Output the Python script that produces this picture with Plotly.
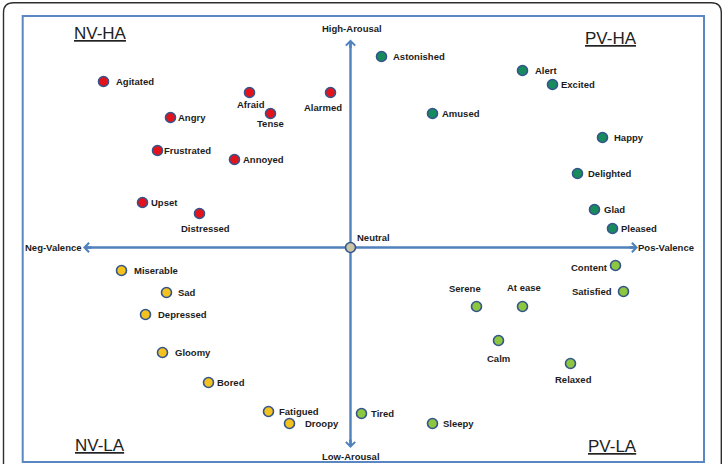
import plotly.graph_objects as go

# ---------------- data (valence, arousal) ----------------
nvha_names = ["Agitated", "Afraid", "Alarmed", "Angry", "Tense", "Frustrated", "Annoyed", "Upset", "Distressed"]
nvha_val = [-2.47, -1.01, -0.20, -1.80, -0.80, -1.93, -1.16, -2.08, -1.51]
nvha_aro = [1.66, 1.55, 1.55, 1.30, 1.34, 0.97, 0.88, 0.45, 0.34]

pvha_names = ["Astonished", "Alert", "Excited", "Amused", "Happy", "Delighted", "Glad", "Pleased"]
pvha_val = [0.31, 1.72, 2.02, 0.82, 2.52, 2.27, 2.44, 2.62]
pvha_aro = [1.91, 1.77, 1.63, 1.34, 1.10, 0.74, 0.38, 0.19]

pvla_names = ["Content", "Satisfied", "Serene", "At ease", "Calm", "Relaxed", "Tired", "Sleepy"]
pvla_val = [2.65, 2.73, 1.26, 1.72, 1.48, 2.20, 0.11, 0.82]
pvla_aro = [-0.18, -0.44, -0.59, -0.59, -0.93, -1.16, -1.66, -1.76]

nvla_names = ["Miserable", "Sad", "Depressed", "Gloomy", "Bored", "Fatigued", "Droopy"]
nvla_val = [-2.29, -1.84, -2.05, -1.88, -1.42, -0.82, -0.61]
nvla_aro = [-0.23, -0.45, -0.67, -1.05, -1.35, -1.64, -1.76]

neutral_names = ["Neutral"]
neutral_val = [0.0]
neutral_aro = [0.0]

quadrant_names = ["NV-HA", "PV-HA", "NV-LA", "PV-LA"]
axis_names = ["High-Arousal", "Low-Arousal", "Neg-Valence", "Pos-Valence"]

# ---------------- styling / layout ----------------
W, H = 723, 464
X_RANGE = [-3.505, 3.725]
Y_RANGE = [-2.165, 2.475]
AX_LEFT, AX_RIGHT, AX_TOP, AX_BOTTOM = -2.675, 2.875, 2.08, -2.005
BLUE = "#4F81BD"
OUTLINE = "#34558C"
TXT = "#1c1c1c"
FONT = "Liberation Sans, Arial, sans-serif"

# label placement: (side, dx px, dy px downward)
nvha_lab = [("r", 12, 0), ("c", 1, 11.5), ("c", -8, 15), ("r", 7, 0), ("c", 0, 10),
            ("r", 6, 0), ("r", 8, 0), ("r", 8, 0), ("c", 6, 15)]
pvha_lab = [("r", 11, 0), ("r", 12, 0), ("r", 8, 0), ("r", 9, 0), ("r", 11, 0),
            ("r", 10, 0), ("r", 9, 0), ("r", 8, 0)]
pvla_lab = [("l", -8, 1.5), ("l", -12, 0), ("c", -12, -18), ("c", 1, -19), ("c", 0, 18),
            ("c", 3, 16), ("r", 9.5, 0), ("r", 10, 0)]
nvla_lab = [("r", 12.5, 0), ("r", 11.5, 0), ("r", 12, 0), ("r", 12, 0), ("r", 8, 0),
            ("r", 10, 0), ("r", 15.5, 0)]
neutral_lab = [("c", 23, -10)]

groups = [
    (nvha_names, nvha_val, nvha_aro, nvha_lab, "#E3121B"),
    (pvha_names, pvha_val, pvha_aro, pvha_lab, "#178B5C"),
    (pvla_names, pvla_val, pvla_aro, pvla_lab, "#8DC63F"),
    (nvla_names, nvla_val, nvla_aro, nvla_lab, "#F4C21F"),
    (neutral_names, neutral_val, neutral_aro, neutral_lab, "#CBC5A4"),
]

fig = go.Figure()
annotations = []
for names, vals, aros, labs, color in groups:
    fig.add_trace(go.Scatter(
        x=vals, y=aros, mode="markers", name=names[0],
        marker=dict(size=10, color=color, line=dict(color=OUTLINE, width=1.6)),
        hoverinfo="text", text=names, showlegend=False,
    ))
    for n, v, a, (side, dx, dy) in zip(names, vals, aros, labs):
        anchor = {"r": "left", "l": "right", "c": "center"}[side]
        annotations.append(dict(
            x=v, y=a, xref="x", yref="y", text=n, showarrow=False,
            xanchor=anchor, yanchor="middle", xshift=dx, yshift=-dy,
            borderpad=0, borderwidth=0,
            font=dict(family=FONT, size=9.5, color=TXT, weight="bold"),
        ))

# arrowheads (short annotations at the axis ends)
for (hx, hy, tx, ty) in [(AX_RIGHT, 0, AX_RIGHT - 0.1, 0), (AX_LEFT, 0, AX_LEFT + 0.1, 0),
                         (0, AX_TOP, 0, AX_TOP - 0.1), (0, AX_BOTTOM, 0, AX_BOTTOM + 0.1)]:
    annotations.append(dict(
        x=hx, y=hy, ax=tx, ay=ty, xref="x", yref="y", axref="x", ayref="y",
        text="", showarrow=True, arrowhead=4, arrowsize=0.75, arrowwidth=2.4,
        arrowcolor=BLUE, standoff=0,
    ))

# axis labels
ax_font = dict(family=FONT, size=9.5, color=TXT, weight="bold")
annotations += [
    dict(x=0, y=AX_TOP, text=axis_names[0], xshift=1.5, yshift=11.5, xanchor="center", yanchor="middle"),
    dict(x=0, y=AX_BOTTOM, text=axis_names[1], xshift=0.5, yshift=-8.5, xanchor="center", yanchor="middle"),
    dict(x=AX_LEFT, y=0, text=axis_names[2], xshift=-1, yshift=0.5, xanchor="right", yanchor="middle"),
    dict(x=AX_RIGHT, y=0, text=axis_names[3], xshift=0, yshift=0.5, xanchor="left", yanchor="middle"),
]
for a in annotations[-4:]:
    a.update(xref="x", yref="y", showarrow=False, borderpad=0, borderwidth=0, font=ax_font)

# quadrant labels
q_font = dict(family=FONT, size=17, color="#222222")
for name, qx, qy in zip(quadrant_names, [-2.505, 2.6, -2.505, 2.615], [2.14, 2.09, -1.98, -1.99]):
    annotations.append(dict(x=qx, y=qy, xref="x", yref="y", text="<u>" + name + "</u>",
                            showarrow=False, xanchor="center", yanchor="middle", font=q_font))


def P(px, py):
    return f"{px / W:.5f},{1 - py / H:.5f}"


r = 10
x0, x1, y0, y1 = 3.5, 721.3, 2.7, 490
outer = (f"M{P(x0, y1)} L{P(x0, y0 + r)} Q{P(x0, y0)} {P(x0 + r, y0)} "
         f"L{P(x1 - r, y0)} Q{P(x1, y0)} {P(x1, y0 + r)} L{P(x1, y1)}")

shapes = [
    dict(type="path", xref="paper", yref="paper", path=outer,
         line=dict(color="#2e2e2e", width=1.4), layer="below"),
    dict(type="rect", xref="paper", yref="paper", x0=22.7 / W, x1=704 / W,
         y0=1 - 462 / H, y1=1 - 16 / H, line=dict(color="#5A86C3", width=2), layer="below"),
    dict(type="line", xref="x", yref="y", x0=AX_LEFT + 0.02, x1=AX_RIGHT - 0.02, y0=0, y1=0,
         line=dict(color=BLUE, width=2.4), layer="below"),
    dict(type="line", xref="x", yref="y", x0=0, x1=0, y0=AX_BOTTOM + 0.02, y1=AX_TOP - 0.02,
         line=dict(color=BLUE, width=2.4), layer="below"),
]

fig.update_layout(
    width=W, height=H, margin=dict(l=0, r=0, t=0, b=0),
    paper_bgcolor="white", plot_bgcolor="white",
    xaxis=dict(range=X_RANGE, visible=False, showgrid=False, zeroline=False, fixedrange=True),
    yaxis=dict(range=Y_RANGE, visible=False, showgrid=False, zeroline=False, fixedrange=True),
    annotations=annotations, shapes=shapes, showlegend=False,
)

fig.write_html("out.html")
